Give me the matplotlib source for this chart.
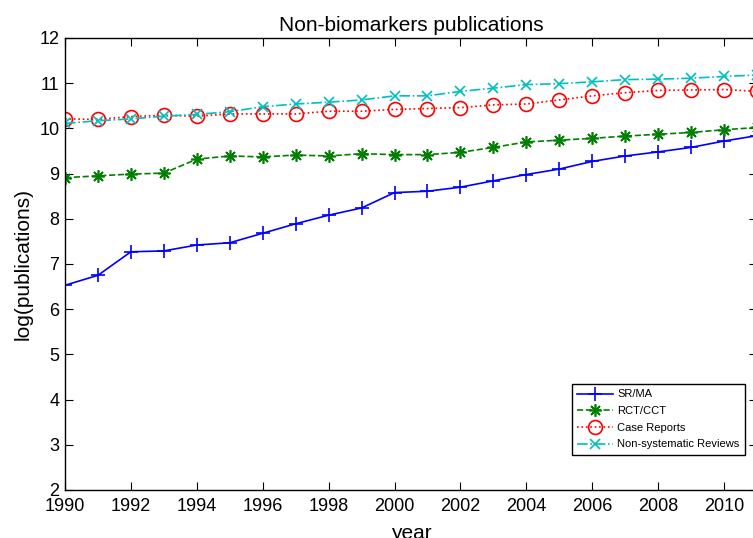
import numpy as np
import matplotlib.pyplot as plt

plt.rcParams['font.family'] = ['Liberation Sans', 'DejaVu Sans']

years = list(range(1990, 2012))
srma = [6.53, 6.75, 7.27, 7.29, 7.42, 7.47, 7.68, 7.89, 8.08, 8.24, 8.58,
        8.61, 8.70, 8.84, 8.98, 9.10, 9.27, 9.39, 9.48, 9.58, 9.72, 9.84]
rct = [8.91, 8.95, 8.99, 9.01, 9.32, 9.39, 9.37, 9.41, 9.39, 9.44, 9.42,
       9.42, 9.47, 9.58, 9.70, 9.74, 9.78, 9.83, 9.87, 9.91, 9.97, 10.02]
case_rep = [10.21, 10.20, 10.26, 10.29, 10.27, 10.32, 10.32, 10.32, 10.38, 10.38, 10.42,
            10.44, 10.46, 10.52, 10.54, 10.63, 10.72, 10.79, 10.84, 10.85, 10.86, 10.82]
nonsys = [10.11, 10.17, 10.21, 10.27, 10.31, 10.37, 10.48, 10.54, 10.58, 10.63, 10.72,
          10.72, 10.82, 10.89, 10.97, 10.99, 11.03, 11.08, 11.09, 11.11, 11.15, 11.18]

fig = plt.figure(figsize=(7.53, 5.38), dpi=100)
ax = fig.add_axes([65 / 753, 48 / 538, 692 / 753, 452 / 538])

ax.plot(years, srma, '-', color='b', marker='+', ms=10, mew=1.2, lw=1.2, label='SR/MA')
ax.plot(years, rct, '--', color=(0, 0.5, 0), marker=(8, 2, 0), ms=9, mew=1.2, lw=1.2, label='RCT/CCT')
ax.plot(years, case_rep, ':', color='r', marker='o', ms=10, mfc='none', mew=1.2, lw=1.2, label='Case Reports')
ax.plot(years, nonsys, '-.', color=(0, 0.75, 0.75), marker='x', ms=7, mew=1.2, lw=1.2,
        label='Non-systematic Reviews')

ax.set_xlim(1990, 2011)
ax.set_ylim(2, 12)
ax.set_xticks(range(1990, 2011, 2))
ax.set_yticks(range(2, 13))
ax.tick_params(direction='in', top=True, right=True, labelsize=13, length=6, width=0.8)
ax.tick_params(axis='x', pad=6)
ax.tick_params(axis='y', pad=4)
for s in ax.spines.values():
    s.set_linewidth(1.0)

ax.set_title('Non-biomarkers publications', fontsize=15, pad=5)
ax.set_xlabel('year', fontsize=15, labelpad=6)
ax.set_ylabel('log(publications)', fontsize=15, labelpad=5)

leg = ax.legend(loc='lower right', bbox_to_anchor=(745 / 753, 83 / 538),
                bbox_transform=fig.transFigure, borderaxespad=0, fontsize=8,
                fancybox=False, edgecolor='black', framealpha=1, handlelength=3.2,
                borderpad=0.5, labelspacing=0.6, handletextpad=0.4)
leg.get_frame().set_linewidth(1.0)

fig.savefig('out.png', dpi=100)
